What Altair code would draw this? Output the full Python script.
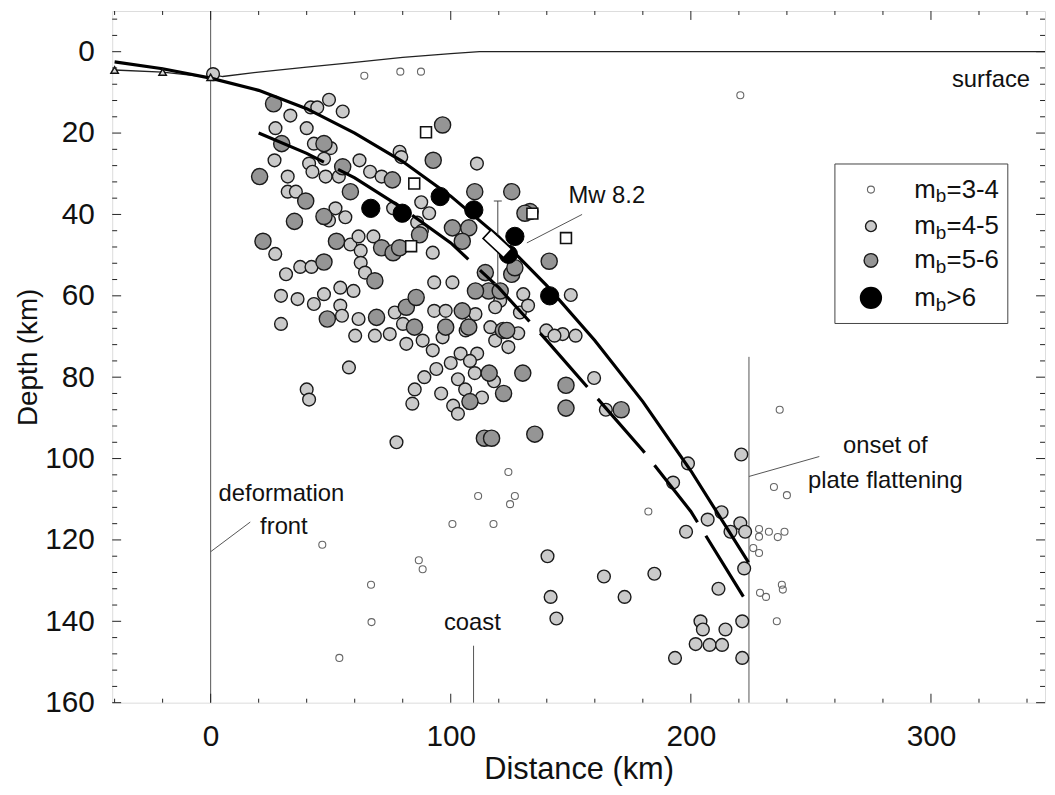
import altair as alt
import pandas as pd

# ---------------- data (distance km, depth km) ----------------
m34_x = [64, 79, 87.6, 220.6, 46.5, 66.8, 67, 53.6, 86.7, 88.3, 111.4, 100.7, 117.8, 124, 126.7, 124.7, 182.3,
         237, 234.6, 240, 228.4, 228.4, 232.5, 236.2, 239, 226, 228.4, 228.8, 231.3, 237.9, 238.3, 235.8]
m34_d = [5.9, 4.9, 4.9, 10.7, 121.2, 131, 140.2, 149, 125, 127.2, 109.2, 116.1, 116.1, 103.3, 109.2, 111.2, 113,
         88, 107, 109, 117.3, 119.2, 118, 119.3, 118, 122, 123.2, 133, 134, 131, 132.2, 140]

m45 = [(1, 5.5), (33.2, 15.7), (41.7, 13.7), (44.4, 13.7), (49.3, 11.8), (55, 14.7), (27, 18.8), (40, 18.8),
       (26.6, 26.7), (32.1, 30.7), (43, 22.6), (50, 23.7), (47.2, 26.3), (41, 27.5), (42.4, 29.5), (47.9, 30.7),
       (53.4, 30.7), (62, 26.7), (66.4, 29.5), (71.2, 30.7), (78.7, 24.6), (79.4, 25.9), (110.9, 27.5),
       (32.1, 34.4), (35.5, 34.4), (52, 38.5), (56.1, 40.7), (49.3, 41.5), (76, 38.5), (87.7, 37), (91, 39.7),
       (86, 42), (88, 44), (26.9, 49.7), (31.4, 54.7), (37.3, 52.9), (42, 52.9), (58.2, 47.4), (61.6, 45.4),
       (67.8, 45.4), (62.5, 48.9), (62.5, 51.9), (64.3, 54.3), (92.5, 49.4), (93.1, 56.7), (100.7, 56.7),
       (29.3, 60), (36.2, 60.8), (43, 62), (47.2, 59.6), (54, 58), (59.5, 58.8), (54, 62.4), (54.7, 64.9),
       (29.3, 66.9), (61.6, 65.7), (60.2, 69.8), (68.4, 69.8), (74.6, 69.4), (76.7, 64.1), (80.1, 66.9),
       (88.3, 71), (81.5, 71.8), (93.1, 63.7), (97.9, 63.7), (110.3, 64.5), (116.5, 67.7), (120.6, 61.2),
       (118.5, 62.8), (104.1, 74.2), (111, 74.2), (118.5, 71), (124, 72.6), (106.2, 68.5), (96.6, 70.2),
       (92.5, 73.4), (150, 59.8), (130.2, 59.6), (128.8, 64.1), (132.2, 62.4), (128.1, 69.2), (139.8, 68.5),
       (146.6, 69.4), (152, 69.8), (143.2, 69.8), (40, 83), (41, 85.5), (57.6, 77.6), (77.4, 96), (94, 78),
       (100, 76.5), (103, 80.5), (106, 83), (110, 79), (113, 85), (118, 81), (96, 84), (101, 87), (103, 89),
       (108, 76), (85, 83), (89, 80), (84, 86.5), (159.7, 80.2), (164.6, 88), (140.3, 124), (141.6, 134),
       (163.8, 129), (172.4, 134), (184.8, 128.3), (144, 139.3), (221, 99), (198.8, 101.2), (192.6, 105.9),
       (212.8, 113.2), (207, 115), (198, 118), (220.6, 115.9), (216.5, 118), (222.6, 118), (222.2, 127),
       (211.5, 132), (204, 140), (205, 142), (214.4, 142), (202, 145.6), (207.8, 145.8), (213, 145.8),
       (221.4, 140), (221.4, 149), (193.4, 149)]
m45_x = [p[0] for p in m45]
m45_d = [p[1] for p in m45]

m56 = [(26.2, 12.8), (29.6, 22.6), (20.4, 30.7), (47.2, 22.6), (55, 28.3), (75.7, 31.5), (96.6, 18), (92.7, 26.7),
       (110, 34.4), (125.4, 34.4), (39.6, 36.7), (58.2, 34.4), (34.9, 41.7), (47.2, 40.5), (21.8, 46.6),
       (47.2, 51.7), (52.4, 46.6), (68.4, 56.3), (71.2, 48.2), (76, 49.4), (78.7, 48.2), (87, 45), (100.7, 43.3),
       (107.5, 43.3), (104.8, 46.6), (114.4, 54.3), (115.8, 58.8), (110.3, 58.8), (48.6, 65.7), (69.1, 65.3),
       (81.5, 62.8), (85.6, 60.4), (84.9, 67.7), (97.9, 67.7), (104.8, 63.7), (107.5, 67.7), (121.9, 68.5),
       (125.4, 54.7), (120.6, 58.8), (133, 39.3), (130.9, 39.7), (126.7, 53.1), (141, 51.5), (123.3, 68.5),
       (116, 79), (122, 84), (130, 79), (108, 86), (135, 94), (114, 95), (117, 95), (148, 82), (148, 87.6),
       (171, 88)]
m56_x = [p[0] for p in m56]
m56_d = [p[1] for p in m56]

m6_x = [66.7, 79.8, 95.6, 109.6, 126.7, 124, 141.2]
m6_d = [38.5, 39.7, 35.6, 38.9, 45.4, 49.8, 60]

sq_x = [89.7, 84.8, 83.5, 134, 148]
sq_d = [19.8, 32.4, 47.8, 39.8, 45.8]

tri_x = [-40, -20, 0]
tri_d = [4.5, 5.0, 6.3]

slab_x = [-40, -20, 0, 20, 40, 60, 80, 100, 120, 140, 160, 180, 200, 224]
slab_d = [2.5, 4.2, 6.5, 9.5, 14, 20, 27, 35.5, 45.5, 57.5, 71, 86, 103, 125.5]

low_x = [20, 40, 60, 80, 100, 120, 140, 160, 180, 200, 223]
low_d = [20, 25, 31, 38.5, 47, 58, 71, 84.5, 98, 113, 135]

surf_x = [0, 5, 20, 40, 60, 80, 100, 112, 347.5]
surf_d = [5.5, 6.1, 5.0, 3.8, 2.6, 1.4, 0.5, 0.0, 0.0]

mw_x, mw_d = 119.4, 47.2
mw_err = [36.7, 57.0]

legend_labels = ["=3-4", "=4-5", "=5-6", ">6"]

x_major = [0, 100, 200, 300]
x_minor = [v for v in range(-40, 341, 20) if v not in x_major]
y_major = list(range(0, 161, 20))
y_minor = [v for v in range(-8, 161, 4) if v not in y_major]

# ---------------- styling / scales ----------------
FONT = "Liberation Sans"
W, H = 940, 697
xs = alt.Scale(domain=[-41, 347.5], nice=False, zero=False)
ys = alt.Scale(domain=[-10, 160], reverse=True, nice=False, zero=False)
xaxis = alt.Axis(values=x_major, ticks=False, domain=False, grid=False, labelFontSize=30,
                 labelPadding=19, labelFont=FONT, labelColor="#111", title="Distance (km)",
                 titleFont=FONT, titleFontSize=31, titleFontWeight="normal", titlePadding=3,
                 titleColor="#111")
yaxis = alt.Axis(values=y_major, ticks=False, domain=False, grid=False, labelFontSize=30,
                 labelPadding=18, labelFont=FONT, labelColor="#111", title="Depth (km)",
                 titleFont=FONT, titleFontSize=28, titleFontWeight="normal", titlePadding=2,
                 titleColor="#111")


def X(f="x"):
    return alt.X(f, type="quantitative", scale=xs, axis=xaxis)


def Y(f="d"):
    return alt.Y(f, type="quantitative", scale=ys, axis=yaxis)


def df(xv, dv, **extra):
    data = {"x": xv, "d": dv}
    data.update(extra)
    return pd.DataFrame(data)


def seq(xv, dv):
    return pd.DataFrame({"x": xv, "d": dv, "i": list(range(len(xv)))})


layers = []

# thin reference lines
vlines = pd.DataFrame({"x": [0, 224.2, 109.5], "d": [-10, 75, 146], "d2": [160, 160, 160]})
layers.append(alt.Chart(vlines).mark_rule(color="#555", strokeWidth=1).encode(x=X(), y=Y(), y2="d2"))

leaders = pd.DataFrame({"x": [0, 224.2, 131.7], "d": [122.9, 104.4, 47],
                        "x2": [16.5, 253.5, 154.7], "d2": [115.6, 99.5, 40]})
layers.append(alt.Chart(leaders).mark_rule(color="#555", strokeWidth=1).encode(
    x=X(), y=Y(), x2="x2", y2="d2"))

# surface line and thin line through triangles
layers.append(alt.Chart(seq(surf_x, surf_d)).mark_line(color="#222", strokeWidth=1.3).encode(
    x=X(), y=Y(), order="i:Q"))
layers.append(alt.Chart(seq(tri_x, tri_d)).mark_line(color="#222", strokeWidth=1.3).encode(
    x=X(), y=Y(), order="i:Q"))

# earthquakes
layers.append(alt.Chart(df(m34_x, m34_d)).mark_point(
    shape="circle", size=50, filled=False, stroke="#666", strokeWidth=1.1, opacity=1).encode(x=X(), y=Y()))
layers.append(alt.Chart(df(m45_x, m45_d)).mark_point(
    shape="circle", size=165, filled=True, fill="#cacaca", stroke="#1a1a1a", strokeWidth=1.4,
    opacity=1).encode(x=X(), y=Y()))
layers.append(alt.Chart(df(m56_x, m56_d)).mark_point(
    shape="circle", size=265, filled=True, fill="#959595", stroke="#1a1a1a", strokeWidth=1.4,
    opacity=1).encode(x=X(), y=Y()))
layers.append(alt.Chart(df(sq_x, sq_d)).mark_point(
    shape="square", size=120, filled=True, fill="white", stroke="#111", strokeWidth=1.6,
    opacity=1).encode(x=X(), y=Y()))
layers.append(alt.Chart(df(m6_x, m6_d)).mark_point(
    shape="circle", size=340, filled=True, fill="black", stroke="black", strokeWidth=1,
    opacity=1).encode(x=X(), y=Y()))

# slab lines
layers.append(alt.Chart(seq(slab_x, slab_d)).mark_line(color="black", strokeWidth=3.2).encode(
    x=X(), y=Y(), order="i:Q"))
layers.append(alt.Chart(seq(low_x, low_d)).mark_line(color="black", strokeWidth=3.2,
                                                     strokeDash=[72, 16]).encode(
    x=X(), y=Y(), order="i:Q"))

# triangles
layers.append(alt.Chart(df(tri_x, tri_d)).mark_point(
    shape="triangle-up", size=55, filled=True, fill="#ddd", stroke="#111", strokeWidth=1.5,
    opacity=1).encode(x=X(), y=Y()))

# Mw 8.2 event: error bar + rotated rectangle
layers.append(alt.Chart(pd.DataFrame({"x": [mw_x + 0.2], "d": [mw_err[0]], "d2": [mw_err[1]]})).mark_rule(
    color="#444", strokeWidth=1).encode(x=X(), y=Y(), y2="d2"))
layers.append(alt.Chart(df([mw_x + 0.2, mw_x + 0.2], mw_err)).mark_point(
    shape="stroke", size=64, stroke="#444", strokeWidth=1, opacity=1).encode(x=X(), y=Y()))
layers.append(alt.Chart(df([mw_x], [mw_d])).mark_point(
    shape="M-1,-0.42L1,-0.42L1,0.42L-1,0.42Z", size=800, angle=43, filled=True, fill="white",
    stroke="black", strokeWidth=1.6, opacity=1).encode(x=X(), y=Y()))


# axis ticks (inward)
def tick_layer(vals, axis, length):
    d = pd.DataFrame({"v": vals})
    m = alt.Chart(d).mark_rule(color="#222", strokeWidth=1)
    if axis == "bottom":
        return m.encode(x=X("v"), y=alt.value(H), y2=alt.value(H - length))
    if axis == "top":
        return m.encode(x=X("v"), y=alt.value(0), y2=alt.value(length))
    if axis == "left":
        return m.encode(y=Y("v"), x=alt.value(0), x2=alt.value(length))
    return m.encode(y=Y("v"), x=alt.value(W), x2=alt.value(W - length))


for side in ["bottom", "top"]:
    layers.append(tick_layer(x_major, side, 9))
    layers.append(tick_layer(x_minor, side, 4))
for side in ["left", "right"]:
    layers.append(tick_layer(y_major, side, 9))
    layers.append(tick_layer(y_minor, side, 5))

# annotation texts
notes_c = pd.DataFrame({"x": [325, 109, 281, 281, 165], "d": [7, 140.5, 97, 105.6, 35.5],
                        "t": ["surface", "coast", "onset of", "plate flattening", "Mw 8.2"]})
layers.append(alt.Chart(notes_c).mark_text(font=FONT, fontSize=24, align="center", baseline="middle",
                                           color="#111").encode(x=X(), y=Y(), text="t"))
notes_l = pd.DataFrame({"x": [3.3, 20.6], "d": [108.8, 116.8], "t": ["deformation", "front"]})
layers.append(alt.Chart(notes_l).mark_text(font=FONT, fontSize=24, align="left", baseline="middle",
                                           color="#111").encode(x=X(), y=Y(), text="t"))

# legend (drawn in data space)
LX0, LX1, LD0, LD1 = 260.0, 332.0, 27.6, 66.8
leg_sym_x = 275.0
leg_rows = [33.9, 42.9, 51.3, 60.5]
layers.append(alt.Chart(pd.DataFrame({"x": [LX0], "x2": [LX1], "d": [LD0], "d2": [LD1]})).mark_rect(
    fill="white", stroke="#444", strokeWidth=1).encode(x=X(), x2="x2", y=Y(), y2="d2"))
layers.append(alt.Chart(df([leg_sym_x], [leg_rows[0]])).mark_point(
    shape="circle", size=50, filled=False, stroke="#666", strokeWidth=1.1, opacity=1).encode(x=X(), y=Y()))
layers.append(alt.Chart(df([leg_sym_x], [leg_rows[1]])).mark_point(
    shape="circle", size=120, filled=True, fill="#cacaca", stroke="#1a1a1a", strokeWidth=1.4,
    opacity=1).encode(x=X(), y=Y()))
layers.append(alt.Chart(df([leg_sym_x], [leg_rows[2]])).mark_point(
    shape="circle", size=190, filled=True, fill="#959595", stroke="#1a1a1a", strokeWidth=1.4,
    opacity=1).encode(x=X(), y=Y()))
layers.append(alt.Chart(df([leg_sym_x], [leg_rows[3]])).mark_point(
    shape="circle", size=420, filled=True, fill="black", stroke="black", opacity=1).encode(x=X(), y=Y()))

leg_m = pd.DataFrame({"x": [293.0] * 4, "d": leg_rows, "t": ["m"] * 4})
layers.append(alt.Chart(leg_m).mark_text(font=FONT, fontSize=26, align="left", baseline="middle",
                                         color="#111").encode(x=X(), y=Y(), text="t"))
leg_b = pd.DataFrame({"x": [302.0] * 4, "d": [r + 1.7 for r in leg_rows], "t": ["b"] * 4})
layers.append(alt.Chart(leg_b).mark_text(font=FONT, fontSize=19, align="left", baseline="middle",
                                         color="#111").encode(x=X(), y=Y(), text="t"))
leg_t = pd.DataFrame({"x": [306.5] * 4, "d": leg_rows, "t": legend_labels})
layers.append(alt.Chart(leg_t).mark_text(font=FONT, fontSize=26, align="left", baseline="middle",
                                         color="#111").encode(x=X(), y=Y(), text="t"))

chart = alt.layer(*layers).properties(
    width=W, height=H,
    autosize=alt.AutoSizeParams(type="none"),
    padding={"left": 105, "top": 0, "right": 2, "bottom": 90},
).configure_view(stroke="#222", strokeWidth=1.2).configure(background="white")

chart.save("out.html", embed_options={"renderer": "svg", "actions": False})
